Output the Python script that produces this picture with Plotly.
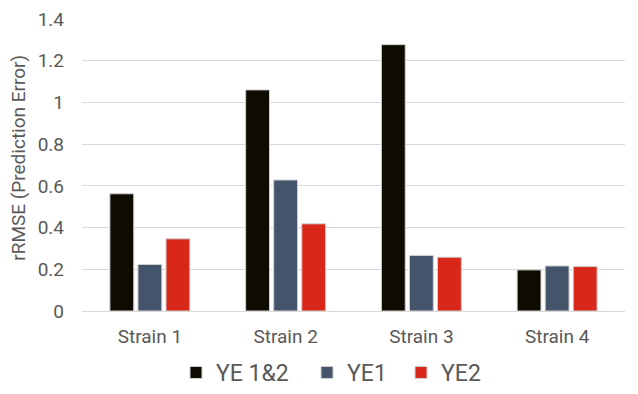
import plotly.graph_objects as go

categories = ["Strain 1", "Strain 2", "Strain 3", "Strain 4"]
ye12 = [0.562, 1.06, 1.277, 0.197]
ye1 = [0.223, 0.628, 0.266, 0.216]
ye2 = [0.346, 0.418, 0.258, 0.213]
series_names = ["YE 1&2", "YE1", "YE2"]
colors = ["#0E0B00", "#44546A", "#D9281A"]
y_ticks = [0, 0.2, 0.4, 0.6, 0.8, 1, 1.2, 1.4]
y_tick_text = ["0", "0.2", "0.4", "0.6", "0.8", "1", "1.2", "1.4"]
y_title = "rRMSE (Prediction Error)"

W, H = 638, 394
ML, MR, MT, MB = 81.5, 12.5, 19, 83.3
PW, PH = W - ML - MR, H - MT - MB
legend_ids = ["legend", "legend2", "legend3"]
legend_left_px = [176, 307, 401]

fig = go.Figure()
for name, vals, col, lid in zip(series_names, [ye12, ye1, ye2], colors, legend_ids):
    fig.add_trace(go.Bar(
        x=categories, y=vals, name=name, legend=lid,
        marker=dict(color=col, line=dict(color="#D0D0D0", width=1)),
    ))

font_family = "Roboto"
text_col = "#595959"
leg_common = dict(orientation="v", xref="container", yref="container",
                  xanchor="left", yanchor="bottom", y=0.0,
                  font=dict(size=23, color=text_col, family=font_family),
                  bgcolor="rgba(0,0,0,0)", borderwidth=0)
layout_legends = {}
for lid, lx in zip(legend_ids, legend_left_px):
    layout_legends[lid] = dict(x=lx / W, **leg_common)

fig.update_layout(
    width=W, height=H,
    margin=dict(l=ML, r=MR, t=MT, b=MB, autoexpand=False),
    paper_bgcolor="white", plot_bgcolor="white",
    barmode="group", bargap=0.38, bargroupgap=0.15,
    font=dict(family=font_family, color=text_col, size=19),
    showlegend=True,
    xaxis=dict(showgrid=False, showline=False, ticks="", tickfont=dict(size=19),
               ticklabelstandoff=12, automargin=False),
    yaxis=dict(range=[0, 1.4], tickvals=y_ticks, ticktext=y_tick_text,
               showgrid=True, gridcolor="#D9D9D9", gridwidth=1,
               zeroline=True, zerolinecolor="#D9D9D9", zerolinewidth=1,
               tickfont=dict(size=19), ticks="", showline=False,
               ticklabelstandoff=17, automargin=False),
    annotations=[dict(text=y_title, textangle=-90, showarrow=False,
                      xref="paper", yref="paper",
                      x=(18.5 - ML) / PW, y=(H - MB - 157.5) / PH,
                      xanchor="center", yanchor="middle",
                      font=dict(size=19, color=text_col, family=font_family))],
    **layout_legends,
)

fig.write_html("out.html")
